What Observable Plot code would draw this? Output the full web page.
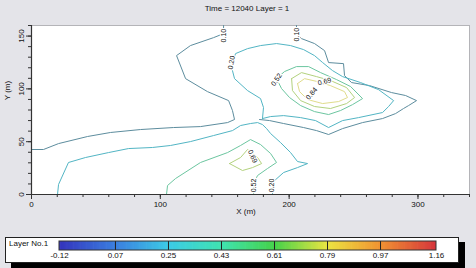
<!DOCTYPE html>
<html><head><meta charset="utf-8">
<script src="https://cdn.jsdelivr.net/npm/d3@7"></script>
<script src="https://cdn.jsdelivr.net/npm/@observablehq/plot@0.6"></script>
<style>
body{margin:0;background:#e4e4e9;}
#wrap{position:relative;width:476px;height:268px;overflow:hidden;font-family:"Liberation Sans",Arial,sans-serif;color:#111;}
#wrap svg{position:absolute;}
.t{position:absolute;font-size:8px;white-space:nowrap;}
#legbox{position:absolute;left:5px;top:237px;width:452px;height:24px;background:#fff;border:1px solid #222;box-shadow:6px 5px 0 #000;}
</style></head>
<body><div id="wrap">
<div class="t" id="title" style="left:0;width:494px;top:4px;text-align:center;">Time = 12040 Layer = 1</div>
<div class="t" style="left:0;width:492px;top:207px;text-align:center;">X (m)</div>
<div class="t" style="left:-4px;top:86px;width:22px;text-align:center;transform:rotate(-90deg);">Y (m)</div>
<div id="legbox"></div>
<div class="t" style="left:9px;top:239px;">Layer No.1</div>
</div>
<script>
// contour levels
const levels = [0.10, 0.20, 0.52, 0.69, 0.84];

// contour polylines [x (m), y (m)]
const c010a = [[0,42.6],[9.3,42.6],[21,48.2],[43.5,54.9],[61.3,58.7],[84.6,61.5],[110.2,63.4],[131.2,64.3],[152.2,68.1],[157.6,71],[156,79.5],[153,88.9],[136.6,97.4],[119.6,109.7],[112.6,131.5],[123.4,141],[141.3,148.5],[149.1,152.3],[149.1,160]];
const c010b = [[205.7,160],[205.7,152.3],[209.6,147.6],[219.7,142.9],[227.5,136.2],[230.6,124.9],[242.2,123.9],[243,112.6],[248.4,106],[262.4,103.1],[279.5,96.5],[290.4,93.7],[298.9,88.9],[292.7,84.2],[288.8,81.4],[282.6,76.6],[272.5,71.9],[257,68.1],[241.5,62.4],[230.6,56.8],[221.3,60.5],[211.2,63.4],[195.7,67.2],[184.8,70],[177,71]];
const c020low = [[20.2,0],[21,9.5],[28.7,30.3],[41.9,35],[59.8,39.7],[75.3,43.5],[93.9,44.5],[107.9,46.4],[123.4,50.1],[141.3,55.8],[156,60.5],[162.3,65.3],[170,67.2],[175.5,68.1],[179.3,66.2],[182.5,62.4],[185.6,57.7],[193.3,49.2],[201.1,39.7],[206.5,31.2],[214.3,29.3],[206.5,25.5],[195.7,20.8],[188.7,13.2],[187.1,7.6],[187.1,0]];
const c020up = [[179.3,71.9],[180.1,82.3],[177.8,90.8],[167.7,98.4],[157.6,109.7],[156,117.3],[156,124.9],[158.4,133.4],[167.7,138.1],[177.8,141],[190.2,142.9],[201.1,141],[211.2,137.2],[219.7,131.5],[226,124.9],[233.7,117.3],[241.5,111.6],[255.4,106],[269.4,99.3],[281.1,88.9],[277.2,83.3],[272.5,77.6],[253.9,72.8],[241.5,70],[230.6,63.4],[220.5,70],[208.9,72.8],[195.7,74.7],[185.6,73.8],[179.3,71.9]];
const c052up = [[190.2,109.7],[196.4,116.4],[205.7,121.1],[215.1,121.1],[224.4,115.4],[236.8,108.8],[247.7,102.2],[257,90.8],[249.2,85.1],[239.9,79.5],[230.6,75.7],[219.7,78.5],[208.9,84.2],[200.3,91.8],[194.1,100.3],[190.2,109.7]];
const c069up = [[201.9,109.7],[209.6,115.4],[221.3,111.6],[232.1,107.9],[244.6,101.2],[250.8,91.8],[244.6,86.1],[232.1,81.4],[219.7,83.3],[208.9,88.9],[202.6,98.4],[201.9,109.7]];
const c084up = [[206.5,105],[212,109.7],[222,106.9],[232.1,103.1],[243,97.4],[245.3,91.8],[238.4,88],[226,86.1],[214.3,89.9],[208.1,97.4],[206.5,105]];
const c052low = [[104.8,0],[105.6,8.5],[111.8,15.1],[131.2,30.3],[152.2,39.7],[162.3,46.4],[170,52],[177.8,47.3],[185.6,38.8],[190.2,30.3],[183.2,24.6],[175.5,18],[172.4,10.4],[172.4,0]];
const c069low = [[153.7,29.3],[162.3,35],[167.7,42.6],[175.5,35],[178.6,29.3],[171.6,25.5],[163.8,22.7],[153.7,29.3]];

const contourLines = [c010a, c010b, c020low, c020up, c052up, c069up, c084up, c052low, c069low];
const contourLevels = [0.10, 0.10, 0.20, 0.20, 0.52, 0.69, 0.84, 0.52, 0.69];

// contour labels
const labelText = ["0.10","0.10","0.20","0.52","0.69","0.84","0.69","0.52","0.20"];
const labelX = [149.1, 205.7, 155.3, 190.2, 227.5, 217.4, 171.6, 172.4, 186.3];
const labelY = [150.4, 151.4, 124.9, 108.8, 106.9, 95.6, 36, 8.5, 8.5];
const labelAngle = [-90, -90, -80, -55, -15, -50, 65, -90, -90];

// axes ticks
const xMajor = [0, 100, 200, 300];
const yMajor = [0, 50, 100, 150];

// legend
const legendStops = [-0.12, 0.07, 0.25, 0.43, 0.61, 0.79, 0.97, 1.16];
const legendLabels = ["-0.12","0.07","0.25","0.43","0.61","0.79","0.97","1.16"];
const legendColors = ["#3434bd","#3b7fe0","#3ccbe6","#3fe3b0","#45d24a","#ece441","#f09232","#d6343c"];
const lineColors = ["#5d8d9e","#52b5c4","#6cc6a0","#b3d27e","#e0dc8c"];

const rows = contourLines.flatMap((pts, i) => pts.map(([x, y]) => ({id: i, level: contourLevels[i], x, y})));
const labels = labelText.map((t, i) => ({text: t, x: labelX[i], y: labelY[i], a: labelAngle[i]}));

const main = Plot.plot({
  width: 476, height: 230,
  marginTop: 25, marginRight: 7, marginBottom: 36, marginLeft: 31,
  x: {domain: [0, 340]},
  y: {domain: [0, 160]},
  color: {type: "ordinal", domain: levels, range: lineColors},
  style: {background: "transparent", fontFamily: "Liberation Sans, Arial, sans-serif", fontSize: "8px", color: "#111"},
  marks: [
    Plot.frame({fill: "white", stroke: "#b4b4b8"}),
    Plot.line(rows, {x: "x", y: "y", z: "id", stroke: "level", strokeWidth: 1}),
    Plot.text(labels, {x: "x", y: "y", text: "text", rotate: "a", fontSize: 7, fill: "#111", stroke: "white", strokeWidth: 2.5}),
    Plot.axisX({ticks: d3.range(0, 341, 20), tickSize: 3, tickFormat: () => "", label: null, stroke: "#333"}),
    Plot.axisX({ticks: xMajor, tickSize: 5, tickPadding: 2, label: null, stroke: "#333"}),
    Plot.axisY({ticks: d3.range(0, 161, 10), tickSize: 3, tickFormat: () => "", label: null, stroke: "#333"}),
    Plot.axisY({ticks: yMajor, tickSize: 5, tickPadding: 3, tickRotate: -90, label: null, stroke: "#333"}),
    Plot.ruleX([0], {stroke: "#333", strokeWidth: 1.2}),
    Plot.ruleY([0], {stroke: "#333", strokeWidth: 1.2})
  ]
});
main.style.left = "0px"; main.style.top = "0px";

const step = 0.004;
const slices = d3.range(-0.12, 1.16, step);
const legend = Plot.plot({
  width: 454, height: 26,
  marginTop: 0, marginRight: 0, marginBottom: 13, marginLeft: 0,
  x: {domain: [-0.12, 1.16], range: [54, 431]},
  y: {domain: [0, 1], range: [13, 4], axis: null},
  color: {type: "linear", domain: legendStops, range: legendColors, interpolate: "rgb"},
  style: {background: "transparent", fontFamily: "Liberation Sans, Arial, sans-serif", fontSize: "8px", color: "#111"},
  marks: [
    Plot.rect(slices, {x1: d => d, x2: d => Math.min(1.16, d + step * 1.6), y1: 0, y2: 1, fill: d => d}),
    Plot.ruleX(legendStops.slice(1, -1), {y1: 0, y2: 1, stroke: "#222", strokeWidth: 1}),
    Plot.rect([legendStops], {x1: d => d[0], x2: d => d[d.length - 1], y1: 0, y2: 1, fill: "none", stroke: "#333"}),
    Plot.axisX({ticks: legendStops, tickSize: 0, tickPadding: 2, tickFormat: (d, i) => legendLabels[i], label: null})
  ]
});
legend.style.left = "5px"; legend.style.top = "237px";

const wrap = document.getElementById("wrap");
wrap.insertBefore(main, wrap.firstChild);
wrap.appendChild(legend);
</script>
</body></html>
